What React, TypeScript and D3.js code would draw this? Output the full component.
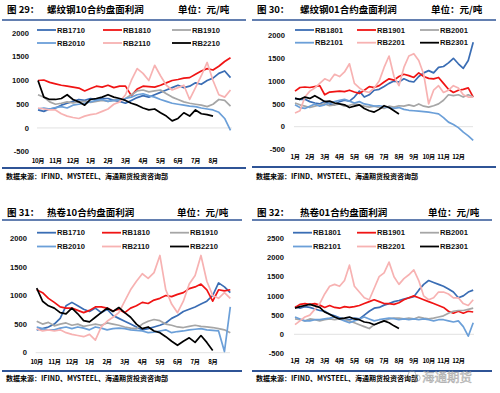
import React from "react";
import * as d3 from "d3";

// one sample about every 10 days (1/3 month)
const STEP = 1 / 3;

const monthsOct = ["10月", "11月", "12月", "1月", "2月", "3月", "4月", "5月", "6月", "7月", "8月"];
const monthsJan = ["1月", "2月", "3月", "4月", "5月", "6月", "7月", "8月", "9月", "10月", "11月", "12月"];

const names10 = ["RB1710", "RB1810", "RB1910", "RB2010", "RB2110", "RB2210"];
const names01 = ["RB1801", "RB1901", "RB2001", "RB2101", "RB2201", "RB2301"];
const colors = ["#3a6db4", "#f01414", "#a6a6a6", "#6b9fd8", "#f7b2b2", "#000000"];

const ticksA = [-500, 0, 500, 1000, 1500, 2000];
const ticksC = [0, 500, 1000, 1500, 2000];
const ticksD = [-500, 0, 500, 1000, 1500, 2000, 2500];

// 图29 螺纹钢10合约
const rebar10_1710 = [380, 350, 400, 420, 480, 520, 560, 600, 580, 620, 600, 620, 620, 580, 560, 520, 580, 640, 680, 650, 700, 750, 800, 850, 900, 850, 880, 950, 920, 1000, 1050, 1150, 1200, 1060];
const rebar10_1810 = [1000, 1010, 960, 930, 900, 880, 860, 840, 780, 830, 880, 860, 900, 850, 880, 880, 680, 820, 880, 870, 860, 900, 950, 1000, 1020, 1050, 1060, 1130, 1200, 1250, 1220, 1300, 1400, 1480];
const rebar10_1910 = [700, 650, 550, 500, 520, 550, 530, 550, 560, 540, 560, 580, 560, 580, 600, 620, 700, 780, 800, 760, 780, 800, 720, 650, 600, 550, 520, 500, 480, 450, 500, 600, 580, 460];
const rebar10_2010 = [400, 420, 400, 430, 450, 420, 480, 500, 520, 550, 580, 600, 560, 580, 600, 620, 650, 700, 720, 680, 650, 600, 560, 520, 500, 480, 460, 450, 420, 400, 380, 330, 200, -50];
const rebar10_2110 = [420, 400, 380, 380, 300, 250, 220, 200, 250, 280, 300, 350, 400, 500, 550, 700, 1000, 1250, 1150, 1000, 1320, 1100, 900, 800, 850, 900, 600, 850, 1100, 1380, 1000, 700, 650, 800];
const rebar10_2210 = [1000, 650, 600, 600, 620, 700, 600, 550, 480, 600, 620, 650, 700, 650, 620, 580, 520, 480, 420, 380, 400, 320, 250, 150, 200, 320, 250, 380, 300, 280, 250];

// 图30 螺纹钢01合约
const rebar01_1801 = [620, 600, 600, 550, 520, 500, 560, 500, 480, 550, 580, 560, 650, 780, 650, 700, 800, 820, 880, 950, 1000, 980, 1050, 1000, 980, 1100, 1180, 1230, 1180, 1300, 1320, 1400, 1500, 1380, 1280, 1450, 1850];
const rebar01_1901 = [780, 860, 870, 860, 880, 900, 700, 760, 770, 780, 770, 800, 760, 730, 800, 880, 860, 900, 980, 1050, 1020, 1100, 1150, 1120, 1080, 1180, 1100, 1060, 1050, 1080, 950, 820, 750, 800, 820, 850, 650];
const rebar01_2001 = [520, 480, 450, 420, 450, 480, 500, 460, 480, 500, 450, 470, 500, 480, 450, 430, 450, 420, 400, 450, 430, 460, 450, 480, 450, 500, 450, 430, 460, 500, 580, 700, 680, 700, 650, 700, 650];
const rebar01_2101 = [480, 420, 400, 450, 500, 450, 480, 520, 550, 580, 600, 560, 520, 550, 500, 480, 450, 460, 440, 420, 400, 420, 380, 360, 350, 340, 330, 320, 300, 280, 200, 100, 50, -20, -120, -200, -300];
const rebar01_2201 = [300, 350, 650, 780, 850, 950, 1050, 1000, 1150, 1100, 1200, 1380, 950, 850, 780, 750, 850, 1000, 1300, 1550, 1100, 900, 1300, 1550, 1600, 1450, 1150, 500, 800, 900, 750, 800, 900, 850, 700, 650, 650];
const rebar01_2301 = [620, 600, 650, 620, 680, 620, 550, 560, 520, 500, 480, 420, 450, 480, 400, 350, 320, 380, 460, 420, 350, 280];

// 图31 热卷10合约
const hrc10_1710 = [400, 420, 450, 500, 600, 820, 880, 820, 760, 720, 780, 700, 760, 650, 600, 550, 500, 450, 400, 420, 450, 480, 520, 600, 650, 720, 760, 800, 850, 900, 1000, 1220, 1150, 1050];
const hrc10_1810 = [1100, 1050, 950, 880, 800, 780, 780, 740, 700, 740, 800, 800, 780, 730, 760, 700, 780, 820, 880, 860, 920, 950, 1000, 980, 1020, 1050, 1120, 1150, 1200, 1100, 900, 1100, 1080, 1100];
const hrc10_1910 = [550, 500, 530, 470, 500, 520, 480, 500, 460, 480, 500, 480, 520, 500, 480, 450, 430, 420, 500, 550, 580, 560, 500, 480, 450, 440, 460, 480, 460, 450, 440, 420, 400, 350];
const hrc10_2010 = [450, 420, 400, 400, 430, 450, 420, 450, 430, 400, 450, 430, 400, 420, 430, 420, 400, 390, 380, 350, 360, 380, 400, 350, 370, 380, 400, 410, 420, 400, 390, 380, 20, 800];
const hrc10_2110 = [420, 380, 400, 380, 400, 350, 320, 300, 280, 320, 220, 450, 550, 620, 700, 900, 1100, 1250, 1380, 1300, 1400, 1700, 1100, 850, 700, 900, 1200, 1350, 1700, 1250, 1000, 950, 1050, 950];
const hrc10_2210 = [1130, 900, 820, 780, 700, 680, 780, 680, 560, 540, 620, 700, 780, 720, 790, 700, 620, 500, 420, 450, 380, 350, 280, 200, 130, 200, 260, 180, 300, 180, 40];

// 图32 热卷01合约
const hrc01_1801 = [720, 680, 720, 700, 660, 620, 600, 520, 480, 430, 400, 380, 420, 400, 500, 600, 680, 700, 760, 800, 850, 880, 920, 950, 980, 1150, 1300, 1400, 1350, 1300, 1250, 1180, 1100, 950, 1000, 1100, 1150];
const hrc01_1901 = [700, 780, 800, 780, 800, 760, 700, 750, 700, 680, 720, 700, 720, 750, 800, 850, 900, 850, 800, 800, 780, 820, 900, 950, 1000, 950, 900, 850, 800, 750, 700, 600, 550, 600, 550, 600, 580];
const hrc01_2001 = [400, 380, 350, 400, 380, 350, 380, 400, 380, 400, 380, 350, 300, 250, 200, 150, 250, 300, 350, 400, 420, 420, 400, 420, 400, 450, 420, 400, 420, 450, 480, 550, 600, 620, 620, 650, 680];
const hrc01_2101 = [450, 400, 350, 350, 380, 380, 400, 420, 450, 400, 350, 300, 350, 400, 450, 400, 350, 380, 400, 420, 410, 380, 400, 380, 400, 380, 400, 380, 350, 380, 380, 350, 320, 350, 200, -50, 300];
const hrc01_2201 = [250, 350, 450, 500, 650, 800, 1050, 1250, 1300, 1250, 1400, 1800, 1250, 1100, 950, 900, 1200, 1500, 1600, 1880, 1500, 1300, 1450, 1550, 1680, 1400, 1000, 900, 950, 1100, 1100, 1050, 950, 950, 800, 750, 900];
const hrc01_2301 = [680, 720, 750, 780, 740, 700, 580, 520, 450, 400, 420, 450, 400, 380, 320, 300, 250, 300, 350, 300, 220, 150];

const FONT = "'Liberation Sans', Arial, 'Noto Sans CJK SC', sans-serif";
const CJK = "'Noto Sans CJK SC', 'Liberation Sans', sans-serif";
const RULE = "#2f5496";

type Panel = {
  fig: string;
  title: string;
  names: string[];
  months: string[];
  series: number[][];
  ticks: number[];
  left: number; // panel left edge
  figX: number;
  titleX: number;
  unitX: number;
  titleY: number;
  ruleTop: number;
  ruleEnd: number;
  legendY: [number, number];
  legendLine: number[];
  x0: number;
  dx: number;
  xEnd: number;
  yDomain: [number, number];
  yRange: [number, number];
  labelRight: number;
  xLabelY: number;
  ruleBottom: number;
  sourceY: number;
};

const panels: Panel[] = [
  {
    fig: "图 29：", title: "螺纹钢10合约盘面利润", names: names10, months: monthsOct,
    series: [rebar10_1710, rebar10_1810, rebar10_1910, rebar10_2010, rebar10_2110, rebar10_2210],
    ticks: ticksA, left: 0, figX: 7, titleX: 47, unitX: 178, titleY: 10, ruleTop: 20, ruleEnd: 246,
    legendY: [30, 43], legendLine: [37, 103, 172], x0: 38, dx: 17.5, xEnd: 232,
    yDomain: [-500, 2000], yRange: [151.7, 33], labelRight: 29, xLabelY: 161, ruleBottom: 168, sourceY: 177,
  },
  {
    fig: "图 30：", title: "螺纹钢01合约盘面利润", names: names01, months: monthsJan,
    series: [rebar01_1801, rebar01_1901, rebar01_2001, rebar01_2101, rebar01_2201, rebar01_2301],
    ticks: ticksA, left: 250, figX: 257, titleX: 300, unitX: 431, titleY: 10, ruleTop: 20, ruleEnd: 496,
    legendY: [30, 42.7], legendLine: [295, 357, 420], x0: 295, dx: 14.85, xEnd: 473,
    yDomain: [-500, 2000], yRange: [149.5, 35.5], labelRight: 285, xLabelY: 157, ruleBottom: 167, sourceY: 177,
  },
  {
    fig: "图 31：", title: "热卷10合约盘面利润", names: names10, months: monthsOct,
    series: [hrc10_1710, hrc10_1810, hrc10_1910, hrc10_2010, hrc10_2110, hrc10_2210],
    ticks: ticksC, left: 0, figX: 7, titleX: 47, unitX: 177, titleY: 213, ruleTop: 220, ruleEnd: 242,
    legendY: [232.7, 246.5], legendLine: [37, 102, 170], x0: 36.7, dx: 17.6, xEnd: 230,
    yDomain: [0, 2000], yRange: [352.7, 238.3], labelRight: 27, xLabelY: 362, ruleBottom: 371, sourceY: 379,
  },
  {
    fig: "图 32：", title: "热卷01合约盘面利润", names: names01, months: monthsJan,
    series: [hrc01_1801, hrc01_1901, hrc01_2001, hrc01_2101, hrc01_2201, hrc01_2301],
    ticks: ticksD, left: 250, figX: 257, titleX: 300, unitX: 428, titleY: 213, ruleTop: 220, ruleEnd: 492,
    legendY: [232.7, 246.5], legendLine: [293, 357, 420], x0: 295, dx: 14.85, xEnd: 474,
    yDomain: [-500, 2500], yRange: [353.5, 238.3], labelRight: 284, xLabelY: 361, ruleBottom: 371, sourceY: 379,
  },
];

function ChartPanel({ p }: { p: Panel }) {
  const x = d3.scaleLinear().domain([0, 1]).range([p.x0, p.x0 + p.dx]);
  const y = d3.scaleLinear().domain(p.yDomain).range(p.yRange);
  const line = d3
    .line<number>()
    .x((_, i) => x(i * STEP))
    .y((d) => y(d));

  return (
    <g>
      {/* title */}
      <text x={p.figX} y={p.titleY} dy="0.35em" fontFamily={CJK} fontWeight={700} fontSize={9.5}>
        {p.fig}
      </text>
      <text x={p.titleX} y={p.titleY} dy="0.35em" fontFamily={CJK} fontWeight={700} fontSize={9.5}>
        {p.title}
      </text>
      <text x={p.unitX} y={p.titleY} dy="0.35em" fontFamily={CJK} fontWeight={700} fontSize={9.5}>
        单位：元/吨
      </text>
      <line x1={p.left + 2} x2={p.ruleEnd} y1={p.ruleTop} y2={p.ruleTop} stroke={RULE} strokeWidth={1.5} />

      {/* legend */}
      {p.names.map((n, i) => {
        const lx = p.legendLine[i % 3];
        const ly = p.legendY[Math.floor(i / 3)];
        return (
          <g key={n}>
            <line x1={lx} x2={lx + 19} y1={ly} y2={ly} stroke={colors[i]} strokeWidth={1.8} />
            <text x={lx + 20} y={ly} dy="0.35em" fontFamily={FONT} fontWeight={700} fontSize={7.6} fill="#111">
              {n}
            </text>
          </g>
        );
      })}

      {/* y axis labels */}
      {p.ticks.map((t) => (
        <text key={t} x={p.labelRight} y={y(t)} dy="0.35em" textAnchor="end" fontFamily={FONT} fontWeight={700} fontSize={7.6} fill="#111">
          {t}
        </text>
      ))}

      {/* zero line */}
      <line x1={p.x0 - 1} x2={p.xEnd} y1={y(0)} y2={y(0)} stroke="#d9d9d9" strokeWidth={0.8} />

      {/* series */}
      {p.series.map((s, i) => (
        <path key={i} d={line(s) || ""} fill="none" stroke={colors[i]} strokeWidth={1.7} strokeLinejoin="round" />
      ))}

      {/* x labels */}
      {p.months.map((m, i) => (
        <text key={m} x={x(i)} y={p.xLabelY} dy="0.35em" textAnchor="middle" fontFamily={CJK} fontWeight={700} fontSize={6.2} letterSpacing={-0.4}>
          {m}
        </text>
      ))}

      <line x1={p.left + 2} x2={p.ruleEnd} y1={p.ruleBottom} y2={p.ruleBottom} stroke={RULE} strokeWidth={2} />
      <text x={p.left + 6} y={p.sourceY} dy="0.35em" fontFamily={CJK} fontWeight={700} fontSize={7}>
        数据来源：IFIND、MYSTEEL、海通期货投资咨询部
      </text>
    </g>
  );
}

export default function App() {
  return (
    <svg
      width={500}
      height={393}
      style={{ position: "absolute", left: 0, top: 0, background: "#fff" }}
    >
      <rect width={500} height={393} fill="#fff" />
      {panels.map((p) => (
        <ChartPanel key={p.fig} p={p} />
      ))}
      {/* watermark */}
      <g opacity={0.75}>
        <circle cx={412} cy={375} r={4} fill="none" stroke="#9a9a9a" strokeWidth={0.8} />
        <circle cx={417} cy={378} r={3.2} fill="none" stroke="#9a9a9a" strokeWidth={0.8} />
        <text x={422} y={378} dy="0.35em" fontFamily={CJK} fontSize={12.5} fill="#d6d6d6" stroke="#8e8e8e" strokeWidth={0.5}>
          海通期货
        </text>
      </g>
    </svg>
  );
}
